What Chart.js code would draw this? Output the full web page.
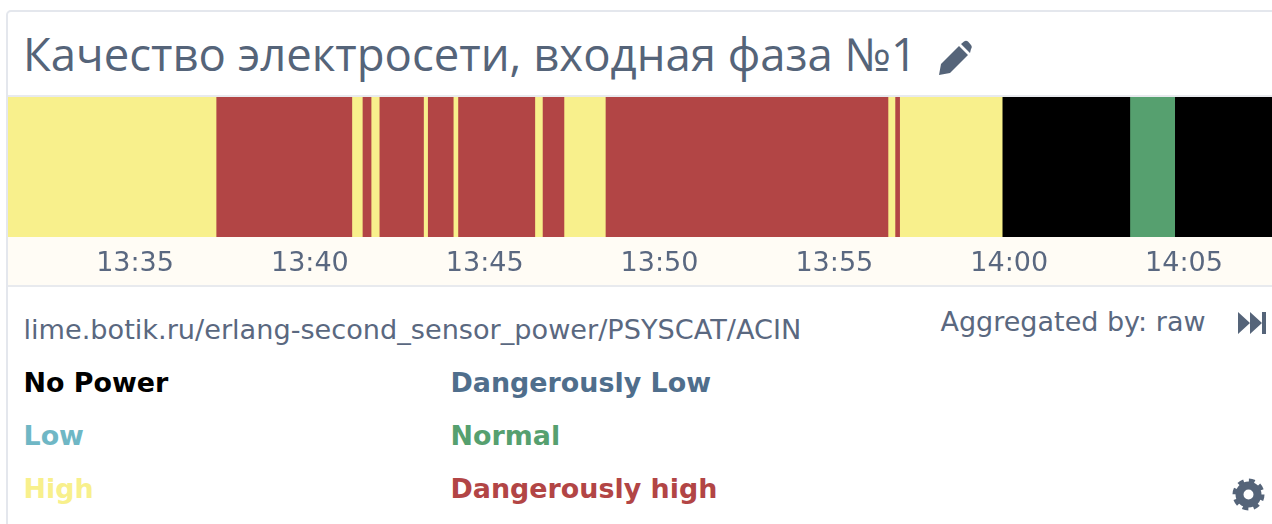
<!DOCTYPE html>
<html lang="ru">
<head>
<meta charset="utf-8">
<title>Качество электросети</title>
<script src="https://cdn.jsdelivr.net/npm/chart.js@4"></script>
<style>
html,body{margin:0;padding:0;background:#fff;width:1272px;height:524px;overflow:hidden}
body{position:relative;font-family:"DejaVu Sans",sans-serif;color:#5a6880}
#card{position:absolute;left:6px;top:10px;width:1300px;height:560px;border:2px solid #e4e7ed;border-radius:5px;box-sizing:border-box}
#title{position:absolute;left:23px;top:23px;font:45.5px/60px "Open Sans",sans-serif;color:#556479;white-space:nowrap}
#wrap{position:absolute;left:8px;top:97px;width:1264px;height:188px;background:#fffcf5}
#topline{position:absolute;left:8px;top:95px;width:1264px;height:2px;background:#e8eaee}
#botline{position:absolute;left:8px;top:285px;width:1264px;height:2px;background:#e8eaee}
.t{position:absolute;white-space:nowrap}
#src{left:23.5px;top:315px;font-size:27.15px;line-height:30px}
#agg{left:940.5px;top:307px;font-size:27px;line-height:30px}
.lg{position:absolute;font-weight:bold;font-size:26.9px;line-height:32px;white-space:nowrap}
svg{position:absolute}
</style>
</head>
<body>
<div id="card"></div>
<div id="title">Качество электросети, входная фаза №1</div>
<svg style="left:938px;top:40px" width="34" height="36" viewBox="0 0 34 36">
  <path fill="#556479" d="M1 35 L3 24 L21 6 L30 15 L12 33 Z M23 4 L26 1.5 Q28 0 30 1.5 L33 5 Q34.5 7 33 9 L32 13 Z"/>
</svg>
<div id="topline"></div>
<div id="wrap"><canvas id="chart" width="1264" height="188"></canvas></div>
<div id="botline"></div>
<div class="t" id="src">lime.botik.ru/erlang-second_sensor_power/PSYSCAT/ACIN</div>
<div class="t" id="agg">Aggregated by: raw</div>
<svg style="left:1238px;top:311px" width="30" height="24" viewBox="0 0 30 24">
  <path fill="#556479" d="M0 1 L12 12 L0 23 Z M12 1 L24 12 L12 23 Z M24 1 H28 V23 H24 Z"/>
</svg>
<div id="legend"></div>
<svg style="left:1232px;top:478px" width="33" height="33" viewBox="0 0 33 33">
  <circle cx="16.5" cy="16.5" r="9" fill="none" stroke="#556479" stroke-width="8"/>
  <circle cx="16.5" cy="16.5" r="13.5" fill="none" stroke="#556479" stroke-width="5" stroke-dasharray="5.6 5"/>
</svg>
<script>
const segmentStarts = ["13:31:22","13:37:19","13:41:12","13:41:30","13:41:45","13:41:59","13:43:15","13:43:22","13:44:06","13:44:14","13:46:26","13:46:39","13:47:16","13:48:27","13:56:32","13:56:44","13:56:52","13:59:48","14:03:27","14:04:44"];
const segmentEnd = "14:07:31";
const segmentStates = ["High","Dangerously high","High","Dangerously high","High","Dangerously high","High","Dangerously high","High","Dangerously high","High","Dangerously high","High","Dangerously high","High","Dangerously high","High","No Power","Normal","No Power"];
const legendNames = ["No Power","Dangerously Low","Low","Normal","High","Dangerously high"];
const legendColors = ["#000000","#4f6e8c","#6fb7c5","#56a06f","#f8f08c","#b24545"];
const legendLeft = [23.5,450.5,23.5,450.5,23.5,450.5];
const legendTop = [367,367,420,420,473,473];
const tickLabels = ["13:35","13:40","13:45","13:50","13:55","14:00","14:05"];

const toSec = s => { const p = s.split(":").map(Number); return p[0]*3600+p[1]*60+(p[2]||0); };
const two = n => String(n).padStart(2,"0");
const colorOf = Object.fromEntries(legendNames.map((n,i)=>[n,legendColors[i]]));

legendNames.forEach((n,i)=>{
  const d=document.createElement("div");
  d.className="lg"; d.textContent=n;
  d.style.left=legendLeft[i]+"px"; d.style.top=legendTop[i]+"px"; d.style.color=legendColors[i];
  document.getElementById("legend").appendChild(d);
});

const datasets = segmentStates.map((st,i)=>({
  label: st,
  data: [[toSec(segmentStarts[i]), i+1<segmentStarts.length ? toSec(segmentStarts[i+1]) : toSec(segmentEnd)]],
  backgroundColor: colorOf[st],
  borderWidth: 0,
  grouped: false,
  barPercentage: 1,
  categoryPercentage: 1
}));

new Chart(document.getElementById("chart"),{
  type:"bar",
  data:{labels:["Power"],datasets},
  options:{
    indexAxis:"y",
    responsive:false,
    animation:false,
    layout:{padding:0},
    plugins:{legend:{display:false},title:{display:false},tooltip:{enabled:false}},
    scales:{
      y:{display:false},
      x:{
        type:"linear",
        offset:false,
        min:toSec(segmentStarts[0]),
        max:toSec(segmentEnd),
        afterFit(s){s.height=48;},
        afterBuildTicks(s){s.ticks=tickLabels.map(l=>({value:toSec(l)}));},
        border:{display:false},
        grid:{display:false,drawTicks:false},
        ticks:{
          autoSkip:false,
          maxRotation:0,
          padding:11,
          color:"#5a6880",
          font:{family:'"DejaVu Sans"',size:27},
          callback(v){return two(Math.floor(v/3600))+":"+two(Math.floor(v%3600/60));}
        }
      }
    }
  }
});
</script>
</body>
</html>
